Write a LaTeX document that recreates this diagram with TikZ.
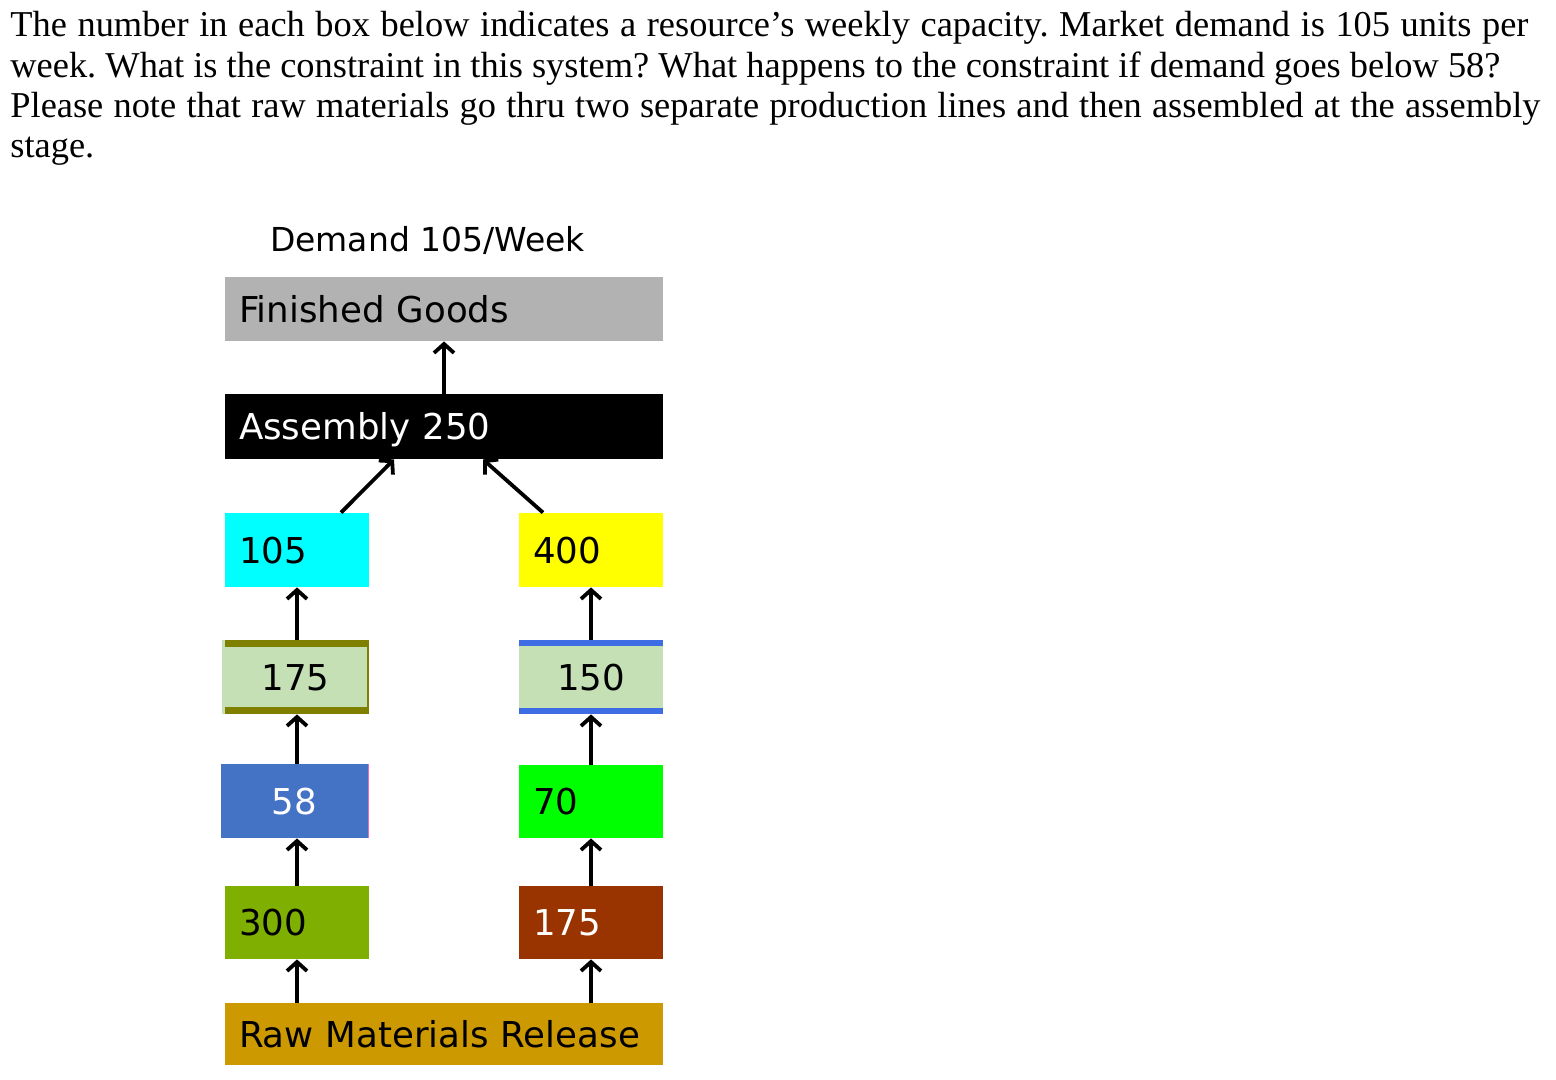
\documentclass[tikz,border=0pt]{standalone}
\usepackage{fontspec}
\setmainfont{Liberation Serif}
\newfontfamily\boxfont{DejaVu Sans}
\usetikzlibrary{arrows.meta}
\frenchspacing

\definecolor{fggray}{RGB}{178,178,178}
\definecolor{aqua}{RGB}{0,255,255}
\definecolor{lemon}{RGB}{255,255,0}
\definecolor{lime}{RGB}{0,255,0}
\definecolor{lgreen}{RGB}{197,224,180}
\definecolor{olivebar}{RGB}{128,128,0}
\definecolor{bluebar}{RGB}{62,108,228}
\definecolor{steel}{RGB}{68,114,196}
\definecolor{grass}{RGB}{127,175,0}
\definecolor{rust}{RGB}{153,51,0}
\definecolor{ochre}{RGB}{204,153,0}

\tikzset{
  box/.style={rectangle, inner sep=0pt, minimum width=72pt, minimum height=37pt,
    text width=58pt, text height=13pt, text depth=0pt,
    font=\boxfont\fontsize{17.8}{21}\selectfont},
  lbox/.style={box, align=left},
  cbox/.style={box, align=center},
  wide/.style={lbox, minimum width=219pt, text width=205pt, minimum height=32pt},
  arr/.style={line width=1.9pt, -{Straight Barb[length=4.5pt,width=10pt]}},
  line/.style={anchor=base west, inner sep=0pt, font=\fontsize{18.2}{22}\selectfont}
}

\begin{document}
\begin{tikzpicture}[x=0.5pt,y=-0.5pt]
%set picture size to the page, 1556 x 1080
\useasboundingbox[fill=white] (0,0) rectangle (1556,1080);

% Question text
\node[line] (q1) at (10,37) {\makebox[759pt][s]{The number in each box below indicates a resource’s weekly capacity. Market demand is 105 units per}};
\node[line] (q2) at (10,78) {week. What is the constraint in this system? What happens to the constraint if demand goes below 58?};
\node[line] (q3) at (10,118) {\makebox[765pt][s]{Please note that raw materials go thru two separate production lines and then assembled at the assembly}};
\node[line] (q4) at (10,158) {stage.};

% Demand
\node[anchor=base, inner sep=0pt, font=\boxfont\fontsize{16.5}{20}\selectfont] (dem) at (427.5,252) {Demand 105/Week};

% Top boxes
\node[wide, fill=fggray] (fg) at (444,309) {Finished Goods};
\node[wide, fill=black, text=white, minimum height=32.5pt] (asm) at (444,426.5) {Assembly 250};

% Left line
\node[lbox, fill=aqua] (c105) at (297,550) {105};
\node[cbox, fill=lgreen, minimum width=73.5pt] (g175) at (295.5,677) {175};
\node[cbox, fill=steel, text=white, minimum width=73.5pt] (b58) at (294.5,801) {58};
\node[lbox, fill=grass, minimum height=36.5pt] (g300) at (297,922.5) {300};

% Right line
\node[lbox, fill=lemon] (y400) at (591,550) {400};
\node[cbox, fill=lgreen] (b150) at (591,677) {150};
\node[lbox, fill=lime, minimum height=36.5pt] (g70) at (591,801.5) {70};
\node[lbox, fill=rust, text=white, minimum height=36.5pt] (r175) at (591,922.5) {175};

% Bottom box
\node[wide, fill=ochre, minimum height=31pt] (raw) at (444,1034) {Raw Materials Release};

% Bars on the buffer boxes
\fill[olivebar] ([xshift=1.5pt]g175.north west) rectangle ([yshift=-3.5pt]g175.north east);
\fill[olivebar] ([xshift=1.5pt,yshift=3.5pt]g175.south west) rectangle (g175.south east);
\draw[olivebar, line width=1pt] ([xshift=-0.5pt]g175.north east) -- ([xshift=-0.5pt]g175.south east);
\fill[bluebar] (b150.north west) rectangle ([yshift=-3pt]b150.north east);
\fill[bluebar] ([yshift=3pt]b150.south west) rectangle (b150.south east);
\draw[magenta!60, line width=0.6pt] (b58.north east) -- (b58.south east);

% Arrows
\draw[arr] (asm.north) -- (fg.south);
\draw[arr] ([xshift=22pt]c105.north) -- ([xshift=-25pt]asm.south);
\draw[arr] ([xshift=-24pt]y400.north) -- ([xshift=19.5pt]asm.south);
\draw[arr] (g175.north -| c105.south) -- (c105.south);
\draw[arr] (b58.north -| c105.south) -- (c105.south |- g175.south);
\draw[arr] (g300.north) -- (g300.north |- b58.south);
\draw[arr] (raw.north -| g300.south) -- (g300.south);
\draw[arr] (b150.north) -- (y400.south);
\draw[arr] (g70.north) -- (b150.south);
\draw[arr] (r175.north) -- (g70.south);
\draw[arr] (raw.north -| r175.south) -- (r175.south);

\end{tikzpicture}
\end{document}
